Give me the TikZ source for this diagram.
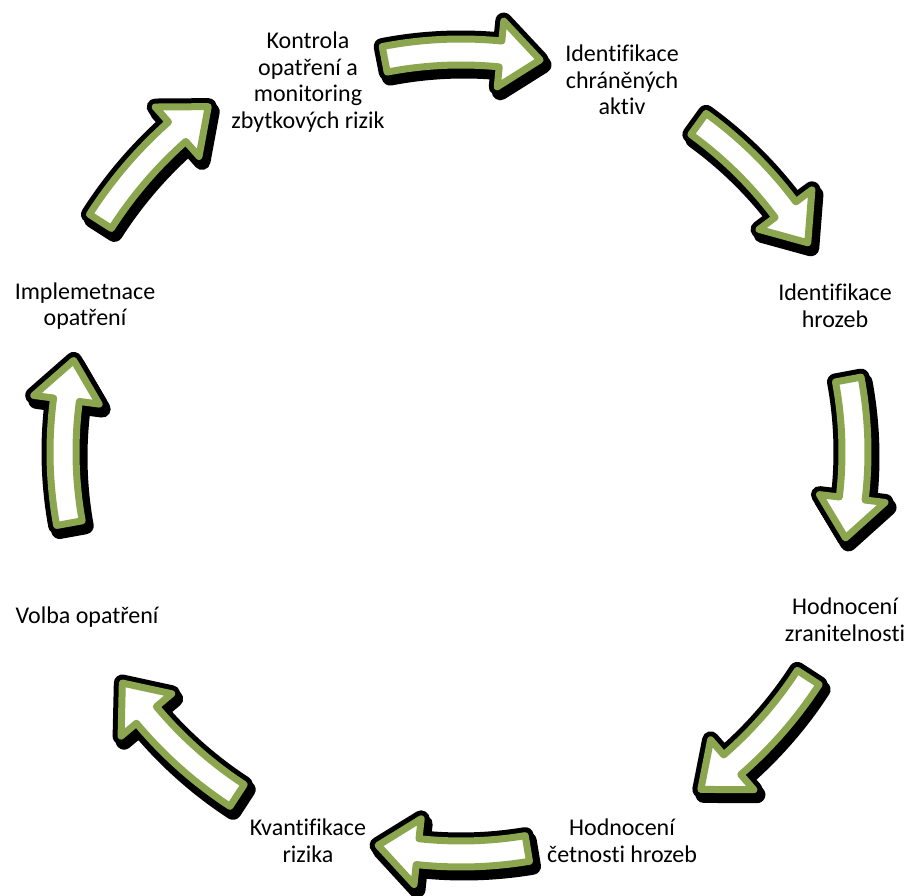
\documentclass[tikz,border=0pt]{standalone}
\usepackage{fontspec}
\setmainfont{Carlito}[Ligatures=NoCommon]
\definecolor{arrowgreen}{RGB}{139,166,78}
\tikzset{
  lbl/.style={align=center, font=\fontsize{24}{26.5}\selectfont, inner sep=0pt},
  arrowshadow/.style={fill=black, draw=black, line width=17pt, line join=round},
  arrowoutline/.style={draw=black, line width=17pt, line join=round},
  arrowbody/.style={fill=white, draw=arrowgreen, line width=7pt, line join=round},
}
% #1 = centre angle, #2 = radius, #3 = half span (deg); arrow runs clockwise
\newcommand{\cyclearrowpath}[2]{%
  (\arrTail:#2-13) arc[start angle=\arrTail, end angle=\arrBase, radius=#2-13]
  -- (\arrBase:#2-33) -- (\arrTip:#2) -- (\arrBase:#2+33) -- (\arrBase:#2+13)
  arc[start angle=\arrBase, end angle=\arrTail, radius=#2+13] -- cycle}
\newcommand{\cyclearrow}[3]{%
  \pgfmathsetmacro{\arrTail}{#1+#3}%
  \pgfmathsetmacro{\arrTip}{#1-#3}%
  \pgfmathsetmacro{\arrBase}{#1-#3+40/#2*57.2958}%
  \begin{scope}[shift={(C)}]
    \path[arrowshadow, shift={(3pt,-5pt)}] \cyclearrowpath{#1}{#2};
    \path[arrowoutline] \cyclearrowpath{#1}{#2};
    \path[arrowbody] \cyclearrowpath{#1}{#2};
  \end{scope}}
\begin{document}
\begin{tikzpicture}[x=1pt,y=1pt]
\useasboundingbox (0,0) rectangle (907,896);
\coordinate (C) at (461,444);
\cyclearrow{89.8}{400}{11.2}
\cyclearrow{42.6}{405}{11.5}
\cyclearrow{-1}{394}{11.6}
\cyclearrow{-43.8}{414}{10.8}
\cyclearrow{-91.2}{402}{10.7}
\cyclearrow{-134.4}{410}{11.3}
\cyclearrow{178.5}{398}{11.8}
\cyclearrow{136.8}{428}{10.6}
\node[lbl] (kontrola) at (308,896-82) {Kontrola\\opatření a\\monitoring\\zbytkových rizik};
\node[lbl] (aktiva) at (622,896-80) {Identifikace\\chráněných\\aktiv};
\node[lbl] (hrozby) at (835,896-306) {Identifikace\\hrozeb};
\node[lbl] (zranitelnost) at (845,896-620) {Hodnocení\\zranitelnosti};
\node[lbl] (cetnost) at (622,896-841) {Hodnocení\\četnosti hrozeb};
\node[lbl] (kvantifikace) at (308,896-841) {Kvantifikace\\rizika};
\node[lbl] (volba) at (87,896-617) {Volba opatření};
\node[lbl] (implementace) at (85,896-306) {Implemetnace\\opatření};
\end{tikzpicture}
\end{document}
